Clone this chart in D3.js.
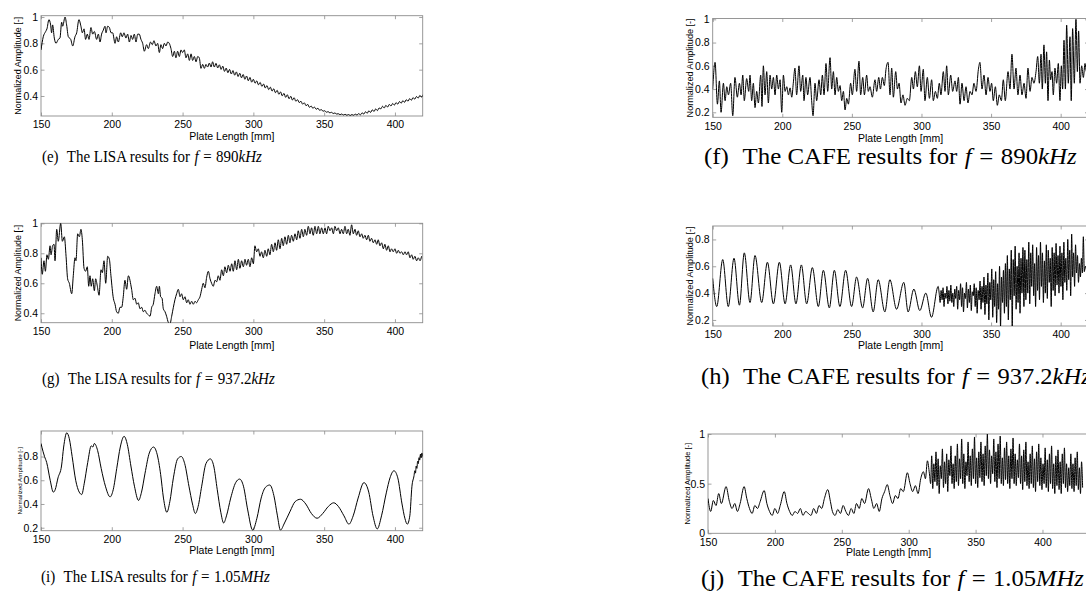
<!DOCTYPE html>
<html><head><meta charset="utf-8">
<script src="https://cdn.jsdelivr.net/npm/d3@7"></script>
<style>body{margin:0;background:#fff}svg{display:block}</style>
</head><body>
<svg id="c" width="1086" height="598"></svg>
<script>
// ---------- DATA ----------
const xTicks = [150, 200, 250, 300, 350, 400];
const xLabel = "Plate Length [mm]";
const yLabel = "Normalized Amplitude [-]";
const captionIds = ["(e)", "(f)", "(g)", "(h)", "(i)", "(j)"];
const captionMethods = ["LISA", "CAFE", "LISA", "CAFE", "LISA", "CAFE"];
const captionFreqs = ["890", "890", "937.2", "937.2", "1.05", "1.05"];
const captionUnits = ["kHz", "kHz", "kHz", "kHz", "MHz", "MHz"];
const yTicksE = [0.4, 0.6, 0.8, 1];
const yTicksF = [0.2, 0.4, 0.6, 0.8, 1];
const yTicksG = [0.4, 0.6, 0.8, 1];
const yTicksH = [0.2, 0.4, 0.6, 0.8];
const yTicksI = [0.2, 0.4, 0.6, 0.8];
const yTicksJ = [0, 0.5, 1];

// (e) LISA 890 kHz  [mm, amplitude]
const lisa890 = [[150,.75],[151.6,.85],[153.3,.89],[154.2,.91],[155.6,.98],[156.8,.94],[157.5,.88],[158.2,.94],[159.4,.84],[160.6,.80],[162.2,.83],[163.4,.84],[164.6,.96],[165.3,.93],[167,1.0],[168.1,.94],[169.3,.85],[171,.83],[172.4,.78],[174,.85],[175.2,.88],[176.8,.98],[178.2,.93],[179.2,.88],[180.4,.91],[181.5,.83],[182.7,.87],[183.9,.83],[185.3,.92],[186.5,.87],[187.7,.89],[189.3,.83],[190.5,.87],[191.7,.81],[192.8,.87],[194,.90],[195.2,.93],[195.9,.88],[197.1,.93],[198.3,.92],[199.5,.88],[200.6,.88],[202.3,.80],[203.4,.85],[204.6,.81],[206.3,.88],[207.4,.85],[208.6,.88],[210,.84],[211.2,.87],[212.4,.81],[213.6,.86],[214.7,.83],[215.9,.87],[217.1,.81],[218.3,.87],[219.4,.87],[220.6,.83],[221.8,.80],[223,.74],[224.6,.79],[225.8,.76],[227.4,.81],[228.6,.79],[229.8,.82],[231.2,.78],[232.4,.80],[233.6,.73],[234.7,.79],[235.9,.76],[237.1,.80],[238.3,.78],[239.5,.81],[240.6,.80],[241.8,.76],[243,.70],[244.2,.74],[245.3,.69],[246.5,.74],[247.7,.70],[248.9,.75],[250,.73],[251.2,.75],[252.4,.69],[253.6,.72],[254.8,.67],[256,.72],[257.1,.67],[258.3,.70],[259.5,.66],[260.7,.70],[261.8,.69],[263,.61],[264.2,.64],[265.4,.61],[266.5,.64],[267.7,.62],[268.9,.65],[270.1,.62],[271.2,.66],[272.4,.62],
[273.6,.648],[274.8,.613],[276,.637],[277.2,.602],[278.4,.627],[279.6,.587],[280.8,.612],[282,.577],[283.2,.602],[284.4,.567],[285.6,.593],[286.8,.558],[288,.583],[289.2,.548],[290.4,.573],[291.6,.538],[292.8,.563],[294,.527],[295.2,.552],[296.4,.516],[297.6,.541],[298.8,.505],[300,.527],[301.2,.497],[302.4,.515],[303.6,.485],[304.8,.503],[306,.473],[307.2,.491],[308.4,.461],[309.6,.479],[310.8,.449],[312,.467],[313.2,.437],[314.4,.455],[315.6,.425],[316.8,.443],[318,.413],[319.2,.431],[320.4,.401],[321.6,.420],[322.8,.390],[324,.409],[325.2,.379],[326.4,.398],[327.6,.369],[328.8,.387],[330,.360],[331.2,.372],[332.4,.350],[333.6,.360],[334.8,.338],[336,.348],[337.2,.326],[338.4,.336],[339.6,.314],[340.8,.324],[342,.307],[343.2,.315],[344.4,.299],[345.6,.307],[346.8,.291],[348,.297],[349.2,.284],[350.4,.288],[351.6,.277],[352.8,.281],[354,.272],[355.2,.276],[356.4,.267],[357.6,.271],[358.8,.263],[360,.265],[361.2,.258],[362.4,.263],[363.6,.256],[364.8,.261],[366,.254],[367.2,.259],[368.4,.252],[369.6,.259],[370.8,.254],[372,.262],[373.2,.255],[374.4,.266],[375.6,.257],[376.8,.272],[378,.263],[379.2,.280],[380.4,.269],[381.6,.288],[382.8,.275],[384,.295],[385.2,.282],[386.4,.302],[387.6,.289],[388.8,.309],[390,.302],[391.2,.322],[392.4,.309],[393.6,.329],[394.8,.316],[396,.336],[397.2,.324],[398.4,.343],[399.6,.331],[400.8,.350],[402,.338],[403.2,.358],[404.4,.345],[405.6,.365],[406.8,.352],[408,.372],[409.2,.360],[410.4,.380],[411.6,.368],[412.8,.388],[414,.376],[415.2,.396],[416.4,.384],[417.6,.404],[418.8,.392],[420,.412]];

// (f) CAFE 890 kHz
const cafe890 = [[150,.40],[151.7,.63],[153.4,.27],[154.8,.47],[156,.20],[157.7,.45],[158.9,.30],[160.1,.42],[161.3,.35],[162.9,.45],[164.4,.17],[166,.50],[167.7,.33],[169.2,.45],[170.4,.35],[171.6,.52],[172.7,.30],[174.4,.49],[175.9,.38],[176.8,.52],[178,.30],[179.2,.45],[180.4,.24],[181.6,.38],[182.8,.28],[184.5,.52],[185.4,.25],[186.4,.60],[187.6,.35],[188.8,.55],[190,.28],[191.2,.52],[192.4,.40],[193.6,.50],[194.8,.35],[196,.52],[197.2,.40],[198.4,.48],[199.6,.20],[200.8,.52],[202,.38],[203.2,.42],[204.4,.35],[205.6,.41],[206.8,.33],[207.9,.45],[209.1,.58],[210.3,.35],[212,.60],[213.2,.38],[214.7,.52],[215.6,.30],[217,.50],[218.2,.35],[219.9,.50],[221.1,.30],[222.1,.17],[223.5,.45],[224.7,.30],[226.4,.48],[227.6,.35],[228.8,.52],[230,.35],[231.4,.62],[232.6,.38],[234.3,.67],[235.5,.40],[236.7,.55],[237.9,.35],[239.1,.50],[240.3,.38],[241.5,.43],[242.7,.30],[243.9,.38],[245.1,.22],[246.3,.32],[247.5,.27],[249.1,.45],[250.3,.35],[252.2,.57],[253.4,.38],[255.1,.64],[256.3,.35],[257.8,.50],[259,.35],[260.6,.52],[261.8,.38],[263,.42],[264.7,.33],[266.6,.48],[267.8,.38],[269.3,.50],[270.5,.40],[271.9,.50],[273.3,.43],[274.5,.57],[276,.63],[277.4,.35],[278.6,.58],[279.8,.33],[281.5,.55],[282.7,.40],[283.9,.45],[285.3,.28],[286.7,.35],[288.2,.26],[289.8,.32],[291.3,.30],[293,.50],[294.2,.40],[295.6,.55],[297,.42],[298.5,.60],[299.7,.38],[301.3,.57],[302.5,.30],[304.2,.50],[305.7,.32],[307.3,.48],[308.5,.30],[310,.38],[311.4,.32],[312.8,.45],[314,.35],[315.7,.55],[316.9,.38],[318.1,.60],[319.3,.35],[321,.52],[322.4,.38],[324.1,.47],[325.3,.38],[326.5,.50],[327.7,.27],[329.1,.45],[330.6,.30],[332,.42],[333.4,.28],[334.9,.38],[336.3,.35],[337.7,.45],[339.2,.38],[340.9,.57],[342,.63],[343.5,.40],[344.9,.52],[346.4,.35],[347.8,.50],[349.2,.38],[350.4,.45],[351.6,.30],[353.1,.42],[354.5,.26],[355.9,.35],[357.4,.30],[358.8,.48],[360.2,.30],[362.2,.55],[363.6,.40],[365,.70],[366.5,.40],[367.9,.58],[369.3,.35],[370.8,.52],[372.2,.35],[373.7,.45],[375.1,.32],[376.5,.58],[378,.38],[379.4,.50],[380.8,.45],[382.3,.55],[383.5,.68],[384.7,.45],[385.9,.70],[386.8,.40],[388,.78],[389,.45],[389.9,.72],[390.9,.30],[391.9,.65],[392.8,.48],[393.8,.55],[394.7,.35],[395.9,.58],[397.1,.45],[398.3,.62],[399.5,.30],[400.5,.60],[401.4,.40],[402.4,.82],[403.4,.40],[404.3,.95],[405.5,.45],[406.7,.85],[407.6,.30],[408.6,.92],[409.8,.45],[411,1.0],[412,.55],[412.9,.90],[413.9,.45],[415.1,.60],[416.3,.50],[417.5,.62],[418.5,.55],[419.5,.60]];

// (g) LISA 937.2 kHz
const lisa937 = [[150,.77],[150.9,.66],[152.1,.75],[153.1,.68],[154.2,.79],[155.2,.76],[156.4,.85],[157.1,.79],[158.2,.85],[159.2,.86],[159.9,.75],[161.1,.96],[162.2,.88],[163.9,1.0],[165.1,.88],[166.5,.91],[167.7,.78],[168.8,.63],[170,.60],[171.7,.53],[172.8,.65],[174,.77],[174.7,.75],[175.9,.93],[177.1,.91],[178.2,.96],[179.2,.89],[180.4,.70],[181.5,.68],[182.7,.71],[183.7,.58],[184.6,.65],[185.5,.58],[186.5,.63],[187.7,.55],[188.6,.63],[189.8,.58],[191,.52],[192.4,.69],[193.3,.67],[194.5,.75],[195.7,.60],[197.1,.78],[198.3,.76],[199.4,.65],[201.1,.50],[202.3,.46],[203.4,.41],[204.6,.40],[205.8,.44],[207,.44],[208.1,.51],[209.3,.62],[210.5,.56],[211.7,.65],[214,.56],[215.2,.49],[216.4,.50],[217.6,.46],[218.7,.47],[219.9,.43],[221.1,.44],[222.3,.41],[223.4,.42],[224.6,.40],[225.8,.39],[227,.38],[228.2,.44],[229.3,.46],[230.5,.53],[231.7,.58],[232.9,.53],[233.6,.58],[234.5,.51],[235.5,.50],[236.4,.43],[237.6,.41],[238.7,.38],[239.9,.34],[241.1,.33],[242.3,.38],[243.5,.44],[244.6,.49],[245.8,.53],[247,.56],[248.2,.51],[249.3,.53],[250.5,.49],[251.7,.51],[252.9,.47],[254,.49],[255.2,.46],[256.4,.48],[257.6,.46],[258.8,.48],[259.9,.47],[261.1,.49],[262.3,.51],[263.5,.56],[264.6,.60],[265.8,.57],[267,.64],[268.2,.68],[269.4,.63],[270.5,.60],[271.7,.58],[272.9,.62],[274.1,.61],[275.2,.65],[276.4,.62],[277.6,.69],[278.8,.65],[279.9,.71],[281.1,.67],[282.3,.72],[283.5,.68],[284.7,.73],[285.8,.68],[287,.75],[288.2,.69],[289.4,.76],[290.5,.70],[291.7,.75],[292.9,.71],[294.1,.76],[295.2,.72],[296.4,.76],[297.6,.71],[298.8,.77],[300,.73],[301.1,.85],[302.3,.81],[303.5,.83],[304.7,.78],[305.8,.81],[307,.77],[308.2,.82],[309.4,.78],[310.5,.83],[311.7,.79],[312.9,.86],[314.1,.81],[315.3,.87],[316.4,.82],[317.6,.89],[318.8,.83],[320,.90],[321.1,.85],[322.3,.91],[323.5,.86],[324.7,.92],[325.8,.87],[327,.92],[328.2,.88],[329.4,.93],[330.6,.89],[331.7,.95],[332.9,.90],[334.1,.96],[335.3,.91],[336.4,.96],[337.6,.92],[338.8,.98],[340,.93],[341.1,.97],[342.3,.92],[343.5,.98],[344.7,.93],[345.9,.98],[347,.93],[348.2,.97],[349.4,.93],[350.6,.97],[351.7,.93],[352.9,.98],[354.1,.95],[355.3,.97],[356.5,.93],[357.6,.98],[358.8,.95],[360,.97],[361.2,.93],[362.3,.96],[363.5,.93],[364.7,.98],[365.9,.93],[367,.96],[368.2,.92],[369.4,.99],[370.6,.93],[371.8,.96],[372.9,.92],[374.1,.95],[375.3,.91],[376.5,.93],[377.6,.90],[378.8,.92],[380,.89],[381.2,.92],[382.3,.88],[383.5,.90],[384.7,.87],[385.9,.89],[387.1,.86],[388.2,.89],[389.4,.85],[390.6,.87],[391.8,.83],[392.9,.86],[394.1,.82],[395.3,.85],[396.5,.81],[397.6,.83],[398.8,.81],[400,.83],[401.2,.80],[402.4,.82],[403.5,.80],[404.7,.81],[405.9,.79],[407.1,.81],[408.2,.79],[409.4,.81],[410.6,.77],[411.8,.79],[412.9,.76],[414.1,.78],[415.3,.75],[416.5,.77],[417.7,.75],[418.8,.78]];

// (h) CAFE 937.2 kHz: regular part (extrema) + dense part
const cafe937 = [[150,.51],[152.9,.30],[157.2,.65],[161.2,.30],[165.3,.66],[169.2,.31],[172.7,.70],[176.8,.33],[180.4,.68],[185.2,.33],[189.3,.63],[193.6,.32],[197.9,.63],[202,.32],[206,.61],[209.8,.32],[213.7,.61],[217.5,.32],[221.6,.59],[225.9,.30],[229.5,.57],[233.8,.29],[237.4,.57],[241.4,.30],[245.5,.57],[249.8,.30],[253.4,.52],[257.7,.29],[261.3,.51],[265.3,.26],[268.9,.50],[273.7,.26],[277.3,.50],[282.1,.28],[287.3,.48],[290.4,.26],[294.5,.43],[298.8,.27],[303.1,.40],[307.2,.22],[312,.45]];
const cafe937DenseStart = 312.7, cafe937DenseStep = 0.7;
const cafe937Dense = [.40,.33,.42,.35,.44,.30,.40,.36,.45,.32,.42,.34,.46,.33,.40,.30,.43,.36,
.45,.28,.42,.35,.47,.30,.44,.26,.40,.36,.48,.29,.43,.33,.46,.27,.41,.38,.47,.30,.44,.25,.42,.35,.49,.28,.45,.33,
.52,.24,.46,.32,.55,.20,.48,.35,.58,.22,.50,.30,.56,.18,.47,.28,.60,.15,.52,.33,.57,
.25,.62,.30,.68,.20,.58,.35,.72,.15,.65,.38,.75,.28,.60,.33,.70,.25,.66,.40,.74,.30,
.72,.35,.65,.40,.78,.32,.70,.45,.76,.38,.62,.30,.74,.42,.68,.35,.78,.45,.70,.33,.64,.40,.76,.36,.72,.48,.66,.30,.74,.42,.70,.38,.77,.46,.68,
.40,.75,.45,.70,.35,.78,.48,.66,.42,.80,.50,.72,.38,.84,.52,.70,.45,.76,.55,.68,.48,.62,.52,.66,.55,.82,.56,.60,.58,.55,.60];

// (i) LISA 1.05 MHz
const lisa105 = [[150,.91],[151.5,.84],[152.5,.80],[154,.75],[156.5,.60],[158.7,.50],[160,.52],[162,.62],[164.5,.72],[166,.88],[168.2,1.0],[170,.95],[172,.80],[174.5,.60],[177,.50],[178.8,.48],[180.5,.57],[183,.75],[185.5,.89],[186.6,.88],[187.7,.91],[190,.85],[192.5,.70],[195.5,.55],[198.8,.46],[201,.52],[203.5,.70],[206,.88],[208.7,.97],[211,.90],[213.5,.72],[216,.55],[218.9,.43],[221,.50],[223.5,.66],[226.5,.83],[229.5,.88],[232,.82],[234.5,.65],[236.5,.45],[238.9,.33],[241,.42],[243.5,.62],[246.5,.78],[249.1,.80],[251.5,.74],[254.5,.55],[257,.40],[259,.32],[261,.38],[263.5,.55],[266.5,.74],[269.6,.78],[272,.72],[274.5,.52],[277,.33],[279,.24],[281,.30],[284,.45],[287.5,.58],[290.3,.61],[293,.55],[296,.35],[299.5,.18],[302.5,.28],[305.5,.45],[308.5,.54],[311.6,.56],[314.5,.47],[317,.30],[319.1,.18],[322,.24],[326,.34],[329.5,.42],[333.3,.44],[337,.40],[341,.32],[345,.28],[349,.32],[353,.38],[356.8,.41],[360,.38],[364,.30],[367.5,.23],[370.5,.30],[374,.45],[378.1,.58],[381.5,.50],[384.5,.30],[387.5,.19],[390.5,.30],[394,.50],[396.5,.62],[399.3,.68],[402,.62],[405,.40],[407,.28],[408.7,.23],[410.5,.30],[412,.55],[413.5,.64],[414,.68],[414.5,.66],[415,.72],[415.5,.70],[416,.76],[416.5,.74],[417,.79],[417.5,.77],[418,.82],[418.5,.79],[419,.83],[419.6,.80]];

// (j) CAFE 1.05 MHz: slow part + dense part
const cafe105 = [[150,.35],[152,.22],[154,.33],[156,.28],[158,.40],[160,.30],[163.5,.47],[166,.32],[168,.25],[170,.30],[172,.22],[174,.30],[177,.47],[179,.35],[181,.25],[183,.20],[185,.28],[187,.25],[189,.32],[192,.43],[194,.30],[196,.22],[198,.18],[200,.25],[202,.20],[204,.28],[207,.42],[209,.30],[211,.22],[213,.18],[215,.22],[217,.20],[219,.25],[221,.18],[223,.22],[225,.20],[227,.18],[229,.25],[231,.20],[233,.28],[235,.25],[237,.35],[239.5,.44],[241.5,.32],[243,.22],[245,.18],[247,.24],[249,.20],[251,.28],[253,.22],[255,.18],[257,.25],[259,.20],[261,.30],[263,.25],[265,.35],[267,.30],[270,.45],[272,.35],[274,.25],[276,.30],[278,.22],[280,.35],[282,.42],[284,.49],[286,.38],[288,.30],[290,.38],[292,.35],[294,.45],[296,.42],[299,.61],[301,.50],[303,.42],[305,.48],[307,.40],[309,.55],[311,.62],[312.5,.55],[314,.73],[315.5,.60]];
const cafe105DenseStart = 316.4, cafe105DenseStep = 0.8;
const cafe105Dense = [.50,.78,.45,.70,.52,.82,.48,.75,.40,.68,.55,.85,.46,.72,.50,.80,.42,.74,.58,.88,.50,.70,.45,
.78,.52,.90,.48,.75,.55,.95,.50,.80,.45,.72,.58,.92,.52,.78,.48,.85,.55,.97,.50,.76,.46,.82,.56,
.92,.52,.80,.48,.88,.58,1.0,.55,.84,.50,.78,.60,.95,.52,.82,.46,.90,.55,.98,.50,.76,.48,.86,.54,
.92,.50,.78,.45,.85,.55,.96,.50,.80,.48,.74,.56,.90,.50,.78,.44,.84,.52,.92,.48,.72,.45,.80,.50,
.88,.46,.75,.42,.82,.52,.90,.48,.76,.44,.70,.50,.86,.46,.74,.42,.80,.50,.88,.45,.70,.40,.78,.48,
.84,.44,.72,.40,.80,.50,.86,.46,.70,.42,.66,.48,.80,.45,.70,.42,.76,.48,.82,.44,.66,.40,.72,.46];

// ---------- BUILD ----------
function withDense(pairs, start, step, vals) {
  return pairs.concat(vals.map((v, i) => [start + i * step, v]));
}
const series = [
  lisa890, cafe890, lisa937,
  withDense(cafe937, cafe937DenseStart, cafe937DenseStep, cafe937Dense),
  lisa105,
  withDense(cafe105, cafe105DenseStart, cafe105DenseStep, cafe105Dense)
];
const yTickSets = [yTicksE, yTicksF, yTicksG, yTicksH, yTicksI, yTicksJ];

// layout (pixels)
const layout = [
  {x0:41, x1:422.7, xd:[150,419.6], y0:15.7, y1:116, yd:[0.248,1.01], ylx:20.5, ylfs:9, xly:140, cx:42, cy:162, cfs:17.5, cw:220},
  {x0:712.7, x1:1088.5, xd:[150,420], y0:18.5, y1:117.3, yd:[0.157,1.007], ylx:693, ylfs:9.1, xly:142, cx:704, cy:164, cfs:23.5, cw:373},
  {x0:41, x1:422.7, xd:[150,419.6], y0:223.3, y1:322.7, yd:[0.337,1.0], ylx:20.5, ylfs:8.9, xly:349, cx:42, cy:384, cfs:17.5, cw:233},
  {x0:712.7, x1:1088.5, xd:[150,420], y0:226, y1:326, yd:[0.155,0.9], ylx:693, ylfs:9.1, xly:349, cx:701, cy:384, cfs:23.5, cw:390},
  {x0:41, x1:422.7, xd:[150,419.6], y0:431, y1:530.7, yd:[0.175,1.015], ylx:21.5, ylfs:6.2, xly:554, cx:41, cy:582, cfs:17.5, cw:229},
  {x0:708, x1:1096, xd:[150,440], y0:434, y1:533.3, yd:[0,1], ylx:690, ylfs:7.5, xly:556, cx:701, cy:586, cfs:23.5, cw:383}
];

const svg = d3.select("#c");
const sans = "'Liberation Sans', Arial, Helvetica, sans-serif";
const serif = "'Liberation Serif', 'Times New Roman', serif";
const gridCol = "#8c8c8c";

layout.forEach((L, k) => {
  const x = d3.scaleLinear().domain(L.xd).range([L.x0, L.x1]);
  const y = d3.scaleLinear().domain(L.yd).range([L.y1, L.y0]);
  const g = svg.append("g");

  const cid = "clip" + k;
  svg.append("clipPath").attr("id", cid).append("rect")
    .attr("x", L.x0).attr("y", L.y0).attr("width", L.x1 - L.x0).attr("height", L.y1 - L.y0);

  const fmt = d => d3.format("~g")(d);
  const ax = d3.axisBottom(x).tickValues(xTicks).tickSizeInner(-3.5).tickSizeOuter(0).tickPadding(5).tickFormat(fmt);
  const axT = d3.axisTop(x).tickValues(xTicks).tickSizeInner(-3.5).tickSizeOuter(0).tickFormat("");
  const ay = d3.axisLeft(y).tickValues(yTickSets[k]).tickSizeInner(-3.5).tickSizeOuter(0).tickPadding(3).tickFormat(fmt);
  const ayR = d3.axisRight(y).tickValues(yTickSets[k]).tickSizeInner(-3.5).tickSizeOuter(0).tickFormat("");

  const styleAxis = sel => {
    sel.select(".domain").remove();
    sel.selectAll(".tick line").attr("stroke", gridCol).attr("stroke-width", 0.8);
    sel.selectAll("text").attr("fill", "#000").attr("font-family", sans).attr("font-size", 10.5);
  };
  g.append("g").attr("transform", `translate(0,${L.y1})`).call(ax).call(styleAxis);
  g.append("g").attr("transform", `translate(0,${L.y0})`).call(axT).call(styleAxis);
  g.append("g").attr("transform", `translate(${L.x0},0)`).call(ay).call(styleAxis);
  g.append("g").attr("transform", `translate(${L.x1},0)`).call(ayR).call(styleAxis);

  g.append("rect").attr("x", L.x0).attr("y", L.y0).attr("width", L.x1 - L.x0).attr("height", L.y1 - L.y0)
    .attr("fill", "none").attr("stroke", gridCol).attr("stroke-width", 0.9);

  const line = d3.line().x(d => x(d[0])).y(d => y(d[1])).curve(d3.curveMonotoneX);
  g.append("path").datum(series[k]).attr("d", line).attr("clip-path", `url(#${cid})`)
    .attr("fill", "none").attr("stroke", "#000").attr("stroke-width", 1).attr("stroke-linejoin", "round");

  g.append("text").attr("x", (L.x0 + Math.min(L.x1, x(420))) / 2).attr("y", L.xly).attr("text-anchor", "middle")
    .attr("font-family", sans).attr("font-size", 10.5).text(xLabel);
  g.append("text").attr("transform", `translate(${L.ylx},${(L.y0 + L.y1) / 2}) rotate(-90)`)
    .attr("text-anchor", "middle").attr("font-family", sans).attr("font-size", L.ylfs).text(yLabel);

  // caption, fitted horizontally to the measured width
  const fs = L.cfs;
  const t = svg.append("text").attr("x", 0).attr("y", 0).attr("font-family", serif).attr("font-size", fs).attr("fill", "#000");
  t.append("tspan").text(captionIds[k]);
  t.append("tspan").attr("dx", fs * 0.55).text("The " + captionMethods[k] + " results for");
  t.append("tspan").attr("dx", fs * 0.3).attr("font-style", "italic").text("f");
  t.append("tspan").attr("dx", fs * 0.3).text("=");
  t.append("tspan").attr("dx", fs * 0.3).text(captionFreqs[k]);
  t.append("tspan").attr("font-style", "italic").text(captionUnits[k]);
  const bb = t.node().getBBox();
  const s = L.cw / bb.width;
  t.attr("transform", `translate(${L.cx - bb.x * s},${L.cy}) scale(${s},1)`);
});
</script>
</body></html>
